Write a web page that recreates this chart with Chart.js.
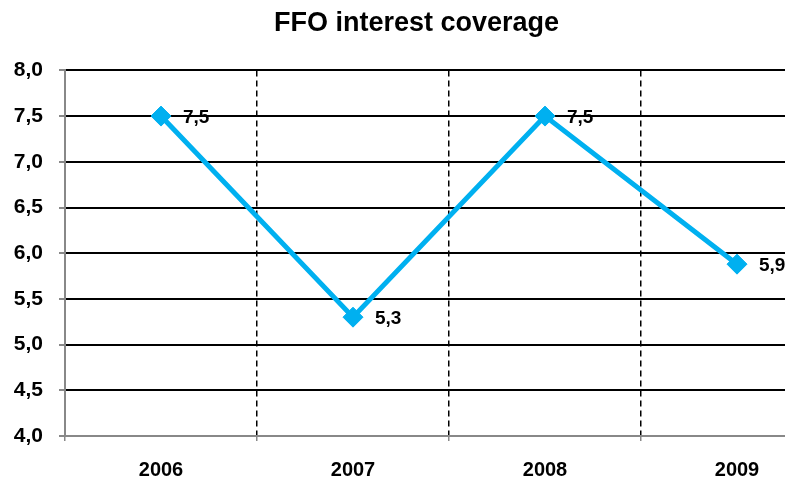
<!DOCTYPE html>
<html>
<head>
<meta charset="utf-8">
<script src="https://cdn.jsdelivr.net/npm/chart.js@4"></script>
<style>
    body { margin: 0; background: #fff; overflow: hidden; }
    #wrap { width: 850px; height: 483px; }
</style>
</head>
<body>
<div id="wrap"><canvas id="chart" width="850" height="483"></canvas></div>
<script>
const years = ['2006', '2007', '2008', '2009'];
const coverage = [7.5, 5.3, 7.5, 5.88];
const yMin = 4;
const yMax = 8;
const yStep = 0.5;

const FONT = "'Liberation Sans', Arial, sans-serif";

// format numbers with comma decimal, one digit
function fmt(v) {
    return Number(v).toFixed(1).replace('.', ',');
}

// draws the value next to each point
const valueLabels = {
    id: 'valueLabels',
    afterDatasetsDraw(chart) {
        const ctx = chart.ctx;
        const meta = chart.getDatasetMeta(0);
        ctx.save();
        ctx.font = 'bold 19px ' + FONT;
        ctx.fillStyle = '#000';
        ctx.textAlign = 'left';
        ctx.textBaseline = 'middle';
        meta.data.forEach((pt, i) => {
            ctx.fillText(fmt(coverage[i]), pt.x + 22, pt.y + 2);
        });
        ctx.restore();
    }
};

const ctx = document.getElementById('chart').getContext('2d');
new Chart(ctx, {
    type: 'line',
    data: {
        labels: years,
        datasets: [{
            data: coverage,
            borderColor: '#00B0F0',
            backgroundColor: '#00B0F0',
            borderWidth: 5,
            pointStyle: 'rectRot',
            pointRadius: 10,
            pointHoverRadius: 10,
            pointBorderWidth: 1,
            tension: 0
        }]
    },
    options: {
        responsive: false,
        animation: false,
        layout: {
            padding: { left: 0, right: 17, top: 0, bottom: 0 }
        },
        plugins: {
            legend: { display: false },
            tooltip: { enabled: false },
            title: {
                display: true,
                text: 'FFO interest coverage',
                color: '#000',
                font: { family: FONT, size: 27, weight: 'bold' },
                padding: { top: 7, bottom: 31 }
            }
        },
        scales: {
            x: {
                offset: true,
                grid: {
                    offset: true,
                    color: '#000',
                    lineWidth: 1.5,
                    tickColor: '#888',
                    tickLength: 5
                },
                border: { color: '#888', width: 2, dash: [6, 4] },
                ticks: {
                    color: '#000',
                    font: { family: FONT, size: 20, weight: 'bold' },
                    padding: 17
                },
                afterFit(scale) { scale.height = 47; }
            },
            y: {
                min: yMin,
                max: yMax,
                grid: {
                    color: (c) => (c.tick && c.tick.value === yMin ? '#888' : '#000'),
                    lineWidth: 2,
                    tickColor: '#888',
                    tickLength: 6
                },
                border: { color: '#888', width: 2 },
                ticks: {
                    stepSize: yStep,
                    color: '#000',
                    font: { family: FONT, size: 21, weight: 'bold' },
                    padding: 16,
                    callback: (v) => fmt(v)
                },
                afterFit(scale) { scale.width = 65; }
            }
        }
    },
    plugins: [valueLabels]
});
</script>
</body>
</html>
